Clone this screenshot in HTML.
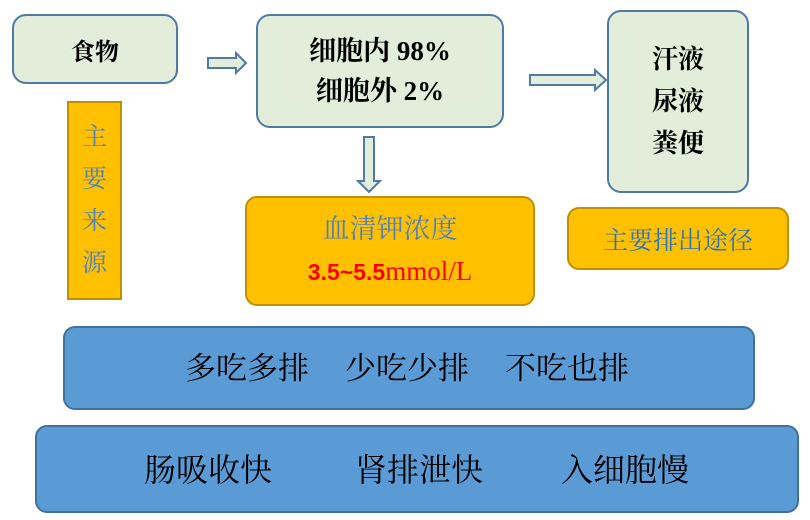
<!DOCTYPE html>
<html><head><meta charset="utf-8"><style>
body{margin:0;width:810px;height:520px;background:#fff;position:relative;overflow:hidden;font-family:"Liberation Serif","Noto Serif CJK SC",serif}
.b{position:absolute;box-sizing:border-box;display:flex;align-items:center;justify-content:center;text-align:center}
.g{background:#e2eeda;border:2.5px solid #4f7aa6;border-radius:14px;font-weight:bold;color:#000;font-family:"Liberation Serif","Noto Serif CJK SC",serif}
.o{background:#ffc000;border:2.5px solid #bf9000;border-radius:12px}
.u{background:#5b9bd5;border:2.5px solid #41719c;border-radius:12px}
.t{position:absolute;color:#000;font-family:"Liberation Serif","Noto Serif CJK SC",serif;white-space:nowrap;line-height:1}
svg{position:absolute;left:0;top:0}
</style></head><body>
<div class="b g" style="left:12px;top:14px;width:166px;height:70px;font-size:24px">食物</div>
<div class="b g" style="left:256px;top:14px;width:248px;height:114px;font-size:27px;line-height:40px">细胞内 98%<br>细胞外 2%</div>
<div class="b g" style="left:607px;top:10px;width:142px;height:183px;font-size:26px;line-height:42px">汗液<br>尿液<br>粪便</div>
<div class="b o" style="left:67px;top:101px;width:55px;height:199px;border-radius:0;font-size:25px;line-height:42px;color:#4f81bd">主<br>要<br>来<br>源</div>
<div class="b o" style="left:245px;top:196px;width:290px;height:110px;flex-direction:column;line-height:42px">
<div style="font-size:27px;color:#4f81bd">血清钾浓度</div>
<div style="font-size:25px;color:#ff0000"><b style="font-family:'Liberation Sans',sans-serif;font-size:23px">3.5~5.5</b><span style="font-size:27px">mmol/L</span></div></div>
<div class="b o" style="left:567px;top:207px;width:222px;height:63px;font-size:25px;color:#2e75b6">主要排出途径</div>
<div class="b u" style="left:63px;top:326px;width:692px;height:84px"></div>
<div class="b u" style="left:35px;top:425px;width:764px;height:88px"></div>
<div class="t" style="left:185px;top:353px;font-size:31px">多吃多排</div>
<div class="t" style="left:345px;top:353px;font-size:31px">少吃少排</div>
<div class="t" style="left:505px;top:353px;font-size:31px">不吃也排</div>
<div class="t" style="left:144px;top:454px;font-size:32px">肠吸收快</div>
<div class="t" style="left:355px;top:454px;font-size:32px">肾排泄快</div>
<div class="t" style="left:561px;top:454px;font-size:32px">入细胞慢</div>
<svg width="810" height="520">
<g fill="#e2eeda" stroke="#4f7aa6" stroke-width="2">
<polygon points="208,58 236,58 236,53 246,63 236,73 236,68 208,68"/>
<polygon points="530,75 595,75 595,70 606,80 595,90 595,85 530,85"/>
<polygon points="364,137 374,137 374,181 380,181 369,192 358,181 364,181"/>
</g></svg>
</body></html>
